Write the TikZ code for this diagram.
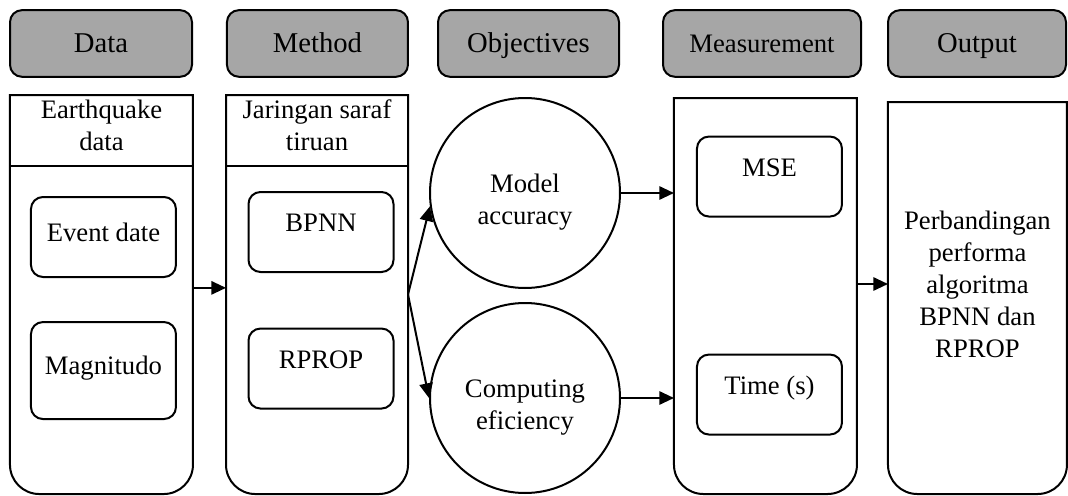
\documentclass[tikz,border=0pt]{standalone}
\usepackage{fontspec}
\setmainfont{Liberation Serif}
\usepackage{tikz}
\usetikzlibrary{arrows.meta}
\usetikzlibrary{positioning}

\begin{document}
\begin{tikzpicture}
    [
        x = 1pt, y = -1pt,
        line width = 1.5pt,
        header/.style = {rectangle, rounded corners = 9pt, draw = black, fill = black!35, minimum height = 50pt, text height = 14.2pt, text depth = 0pt, font = \fontsize{21.5}{26}\selectfont},
        column/.style = {rectangle, draw = none, inner sep = 0pt},
        coltitle/.style = {anchor = north, align = center, inner sep = 0pt, font = \fontsize{20}{24}\selectfont},
        innerbox/.style = {rectangle, rounded corners = 9pt, draw = black, minimum width = 108.75pt, minimum height = 60pt, text depth = 14pt, font = \fontsize{20}{24}\selectfont},
        goal/.style = {circle, draw = black, minimum size = 142.5pt, inner sep = 0pt, align = center, text height = 52pt, font = \fontsize{20}{24}\selectfont},
        flow/.style = {-{Triangle[length = 11pt, width = 10pt]}}
    ]
    \useasboundingbox (0,0) rectangle (801,372);

    % Draw the headers:
    \node (hdata)   [header, minimum width = 136.5pt]  at (75.75, 32.6) {Data};
    \node (hmethod) [header, minimum width = 135.75pt] at (238.1, 32.6) {Method};
    \node (hobj)    [header, minimum width = 135.75pt] at (396.4, 32.6) {Objectives};
    \node (hmeas)   [header, minimum width = 148.5pt, text height = 13.3pt, font = \fontsize{20}{24}\selectfont] at (571.5, 32.6) {Measurement};
    \node (hout)    [header, minimum width = 133.5pt]  at (732.75, 32.6) {Output};

    % Draw the columns:
    \node (datacol)   [column, minimum width = 135.75pt, minimum height = 297.75pt] at (76.1, 220.9) {};
    \node (methodcol) [column, minimum width = 135pt,    minimum height = 297.75pt] at (237.75, 220.9) {};
    \node (meascol)   [column, minimum width = 135.75pt, minimum height = 295.5pt]  at (574.1, 222) {};
    \node (outcol)    [column, minimum width = 132.75pt, minimum height = 292.5pt, align = center, text depth = 20pt, font = \fontsize{20}{24}\selectfont] at (733.1, 223.5)
        {Perbandingan\\performa\\algoritma\\BPNN dan\\RPROP};
    \foreach \col in {datacol, methodcol, meascol, outcol}
        \draw (\col.north west) -- (\col.south west |- 0,300) [rounded corners = 22pt] -- (\col.south west) -- (\col.south east) -- (\col.south east |- 0,300) [sharp corners] -- (\col.north east) -- cycle;
    \draw (datacol.west |- 0,124.5) -- (datacol.east |- 0,124.5);
    \draw (methodcol.west |- 0,124.5) -- (methodcol.east |- 0,124.5);

    % Draw the column titles:
    \node (eqtitle)  [coltitle] at ([yshift = -3pt] datacol.north)   {Earthquake\\data};
    \node (jstitle)  [coltitle] at ([yshift = -3pt] methodcol.north) {Jaringan saraf\\tiruan};

    % Draw the inner boxes:
    \node (evdate) [innerbox, text depth = 7pt] at (77.6, 177.75) {Event date};
    \node (magn)   [innerbox, minimum height = 72.75pt, text depth = 8pt] at (77.6, 277.9) {Magnitudo};
    \node (bpnn)   [innerbox] at (240.75, 174) {BPNN};
    \node (rprop)  [innerbox] at (240.75, 276.4) {RPROP};
    \node (mse)    [innerbox] at (577.1, 132.4) {MSE};
    \node (time)   [innerbox] at (577.1, 295.9) {Time (s)};

    % Draw the objectives:
    \node (acc)  [goal] at (393.75, 144.75) {Model\\accuracy};
    \node (comp) [goal] at (393.75, 298.5)  {Computing\\eficiency};

    % Draw the arrows:
    \draw [flow] ([yshift = 5pt] datacol.east) -- ([yshift = 5pt] methodcol.west);
    \draw [flow] (methodcol.east) -- (acc.188);
    \draw [flow] (methodcol.east) -- (comp.west);
    \draw [flow] (acc.east) -- (acc.east -| meascol.west);
    \draw [flow] (comp.east) -- (comp.east -| meascol.west);
    \draw [flow] ([yshift = 9pt] meascol.east) -- ([yshift = 9pt] meascol.east -| outcol.west);
\end{tikzpicture}
\end{document}
